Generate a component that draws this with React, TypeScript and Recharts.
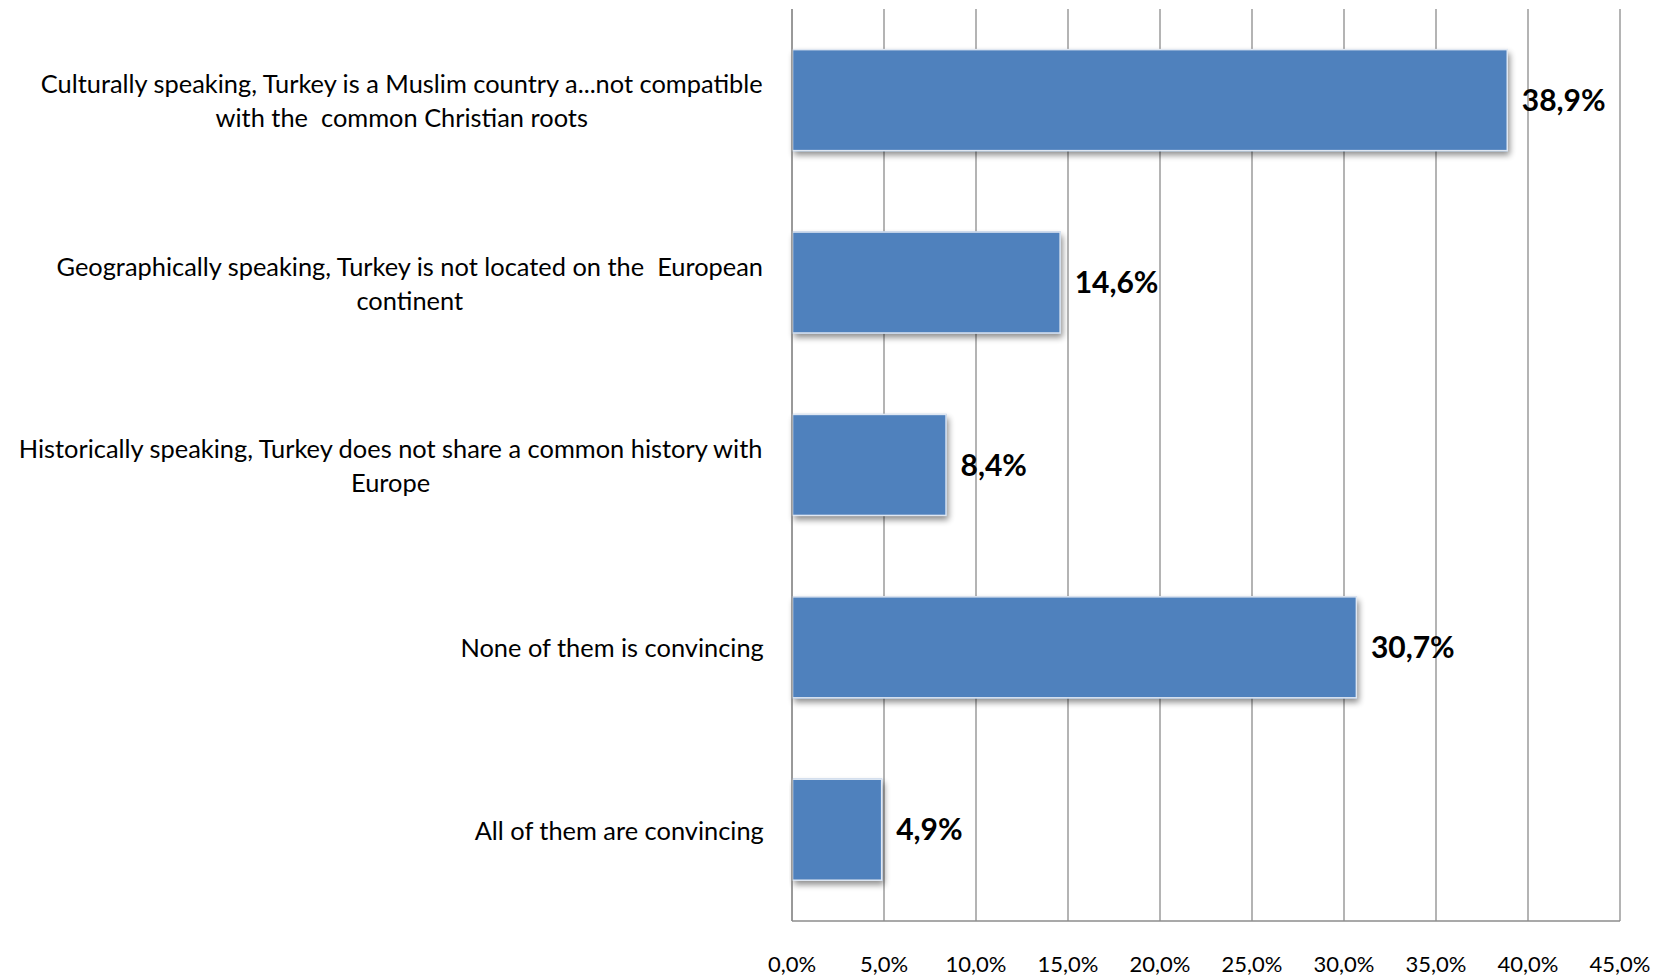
import React from "react";
import { BarChart, Bar, XAxis, YAxis, CartesianGrid, LabelList } from "recharts";

const categories = [
  "Culturally speaking, Turkey is a Muslim country a...not compatible\nwith the  common Christian roots",
  "Geographically speaking, Turkey is not located on the  European\ncontinent",
  "Historically speaking, Turkey does not share a common history with\nEurope",
  "None of them is convincing",
  "All of them are convincing",
];
const values = [38.9, 14.6, 8.4, 30.7, 4.9];
const xTicks = [0, 5, 10, 15, 20, 25, 30, 35, 40, 45];

const data = categories.map((c, i) => ({ name: c, value: values[i] }));

const FONT = "Lato, 'Open Sans', sans-serif";
const CAT_SIZE = 25.4;
const GRID = "#8c8c8c";
const BAR = "#4F81BD";

let ctx: CanvasRenderingContext2D | null = null;
function measure(t: string, size: number): number {
  if (!ctx) {
    const c = document.createElement("canvas");
    ctx = c.getContext("2d");
  }
  if (!ctx) return t.length * size * 0.5;
  ctx.font = `${size}px Lato`;
  return ctx.measureText(t).width;
}

const fmt = (v: number) => v.toFixed(1).replace(".", ",") + "%";

const CatTick = (props: any) => {
  const { y, payload } = props;
  const right = 764;
  const lines: string[] = String(payload.value).split("\n");
  const maxW = Math.max(...lines.map((l) => measure(l, CAT_SIZE)));
  const cx = right - maxW / 2;
  const lh = 34;
  return (
    <g>
      {lines.map((l, i) => (
        <text
          key={i}
          x={cx}
          y={y + (i - (lines.length - 1) / 2) * lh}
          textAnchor="middle"
          dominantBaseline="central"
          fontFamily={FONT}
          fontSize={CAT_SIZE}
          fill="#000"
          style={{ whiteSpace: "pre" }}
        >
          {l}
        </text>
      ))}
    </g>
  );
};

const ShadowBar = (props: any) => {
  const { x, y, width, height } = props;
  if (width == null || width <= 0) return null;
  return (
    <g>
      <rect x={x} y={y} width={width} height={height} fill={BAR} filter="url(#barShadow)" />
      <rect x={x + 0.5} y={y + 0.5} width={width - 1} height={height - 1} fill={BAR} stroke="#dfe7f2" strokeWidth={1.5} />
    </g>
  );
};

export default function App() {
  return (
    <div style={{ position: "absolute", left: 0, top: 0, width: 1669, height: 980, background: "#fff" }}>
      <BarChart
        width={1669}
        height={980}
        data={data}
        layout="vertical"
        margin={{ top: 9, right: 49, bottom: 0, left: 0 }}
        barCategoryGap="22%"
      >
        <defs>
          <filter id="barShadow" x="-5%" y="-10%" width="115%" height="130%">
            <feGaussianBlur in="SourceAlpha" stdDeviation="3" />
            <feOffset dx="2" dy="4" result="ob" />
            <feComponentTransfer>
              <feFuncA type="linear" slope="0.45" />
            </feComponentTransfer>
            <feMerge>
              <feMergeNode />
              <feMergeNode in="SourceGraphic" />
            </feMerge>
          </filter>
        </defs>
        <CartesianGrid horizontal={false} vertical={true} stroke={GRID} strokeWidth={1.3} />
        <XAxis
          type="number"
          domain={[0, 45]}
          ticks={xTicks}
          tickFormatter={fmt}
          height={59}
          tickSize={0}
          tickLine={false}
          tickMargin={35}
          axisLine={{ stroke: GRID, strokeWidth: 1.3 }}
          tick={{ fontFamily: FONT, fontSize: 22, fill: "#000" }}
          interval={0}
        />
        <YAxis
          type="category"
          dataKey="name"
          width={792}
          tickLine={false}
          tickSize={0}
          axisLine={{ stroke: GRID, strokeWidth: 1.3 }}
          tick={<CatTick />}
          interval={0}
        />
        <Bar dataKey="value" fill={BAR} isAnimationActive={false} shape={<ShadowBar />}>
          <LabelList
            dataKey="value"
            position="right"
            offset={14}
            formatter={(v: any) => fmt(Number(v))}
            style={{ fontFamily: FONT, fontSize: 30, fontWeight: 700, fill: "#000" }}
          />
        </Bar>
      </BarChart>
    </div>
  );
}
